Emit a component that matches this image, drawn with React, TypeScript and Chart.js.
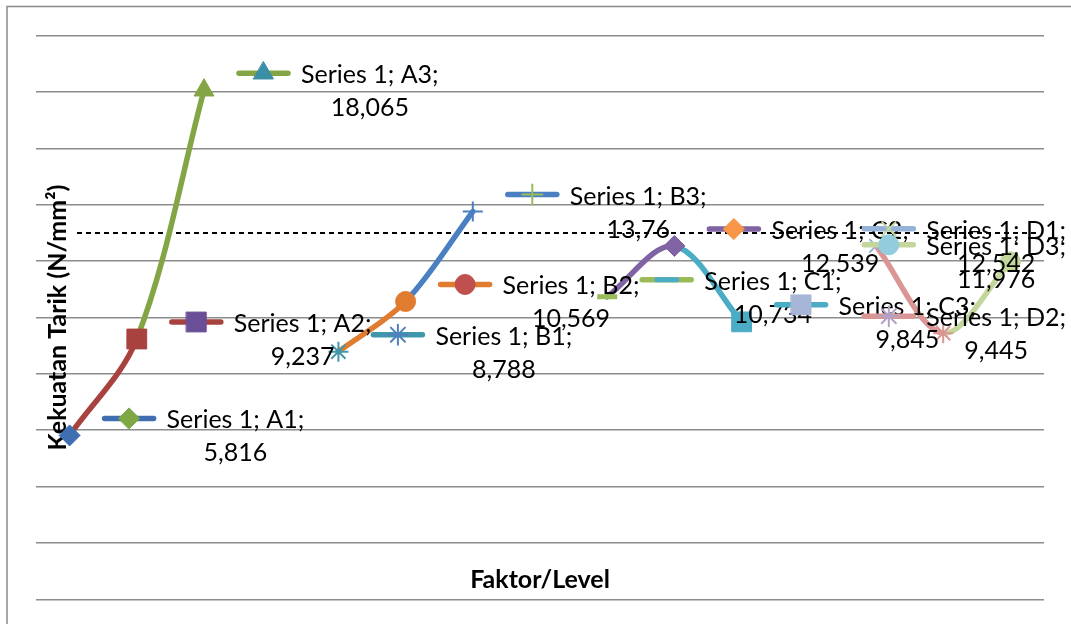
import React, { useEffect, useRef } from 'react';
import { Chart, registerables } from 'chart.js';
import { drawPoint } from 'chart.js/helpers';

Chart.register(...registerables);

// ---------- data ----------
const categories = ['A1', 'A2', 'A3', '', 'B1', 'B2', 'B3', '', 'C1', 'C2', 'C3', '', 'D1', 'D2', 'D3'];
const values: (number | null)[] = [5.816, 9.237, 18.065, null, 8.788, 10.569, 13.76, null, 10.734, 12.539, 9.845, null, 12.542, 9.445, 11.976];
const seriesName = 'Series 1';
const referenceValue = 13;
const yMin = 0;
const yMax = 20;
const yStep = 2;
const yTitle = 'Kekuatan Tarik (N/mm²)';
const xTitle = 'Faktor/Level';

// ---------- styles ----------
const pointColors = ['#3F6FB0', '#A8423F', '#84A546', '#000000', '#3F97AB', '#E07C30', '#4A7FC1', '#000000', '#9BBB59', '#7F63A2', '#4BACC6', '#000000', '#95B3D7', '#D99694', '#C3D69B'];
const keyMarkerColors = ['#7FA745', '#6B4E98', '#3A8EA5', '#000000', '#4F81BD', '#C0504D', '#9BBB59', '#000000', '#4BACC6', '#F79646', '#A5B6D6', '#000000', '#C3D69B', '#B3A2C7', '#93CDDD'];
const pointStyles = ['rectRot', 'rect', 'triangle', 'circle', 'star', 'circle', 'cross', 'circle', 'line', 'rectRot', 'rect', 'circle', 'crossRot', 'star', 'circle'];

const radiusFor = (s: string) =>
  ({ rectRot: 10.5, rect: 14, triangle: 11.5, star: 10, circle: 10, cross: 10, line: 10, crossRot: 9.5 } as any)[s] ?? 10;
const borderFor = (s: string) =>
  s === 'line' ? 5 : s === 'star' || s === 'cross' || s === 'crossRot' ? 2 : 1;

const FONT = 'Lato, "Open Sans", sans-serif';
const LABEL_RIGHT_LIMIT = 1066;

const framePlugin = {
  id: 'frame',
  beforeDraw(chart: any) {
    const ctx = chart.ctx;
    ctx.save();
    ctx.fillStyle = '#ffffff';
    ctx.fillRect(0, 0, chart.width, chart.height);
    ctx.strokeStyle = '#8a8a8a';
    ctx.lineWidth = 1.5;
    ctx.strokeRect(7, 6.5, chart.width + 20, chart.height + 20);
    ctx.restore();
  },
};

const refLinePlugin = {
  id: 'refLine',
  beforeDatasetsDraw(chart: any) {
    const ctx = chart.ctx;
    const y = chart.scales.y.getPixelForValue(referenceValue);
    ctx.save();
    ctx.strokeStyle = '#000000';
    ctx.lineWidth = 2;
    ctx.setLineDash([5, 4]);
    ctx.beginPath();
    ctx.moveTo(77, y);
    ctx.lineTo(chart.chartArea.right - 4, y);
    ctx.stroke();
    ctx.restore();

    // axis titles
    const area = chart.chartArea;
    ctx.save();
    ctx.fillStyle = '#000000';
    ctx.font = `bold 25px ${FONT}`;
    ctx.textAlign = 'center';
    ctx.textBaseline = 'alphabetic';
    ctx.fillText(xTitle, (area.left + area.right) / 2, 588);
    ctx.translate(66, (area.top + area.bottom) / 2);
    ctx.rotate(-Math.PI / 2);
    ctx.fillText(yTitle, 0, 0);
    ctx.restore();
  },
};

const labelPlugin = {
  id: 'pointLabels',
  afterDatasetsDraw(chart: any) {
    const ctx = chart.ctx;
    const meta = chart.getDatasetMeta(0);
    ctx.save();
    ctx.font = `25px ${FONT}`;
    values.forEach((v, i) => {
      if (v == null) return;
      const el = meta.data[i];
      const { x, y } = el.getProps(['x', 'y'], true);
      const line1 = `${seriesName}; ${categories[i]};`;
      const line2 = String(v).replace('.', ',');
      const w1 = ctx.measureText(line1).width;
      let keyX = x + 32;
      let textX = keyX + 65;
      const overflow = textX + w1 - LABEL_RIGHT_LIMIT;
      if (overflow > 0) {
        keyX -= overflow;
        textX -= overflow;
      }
      const keyY = y - 17;
      ctx.save();
      ctx.strokeStyle = pointColors[i];
      ctx.lineWidth = 5.5;
      ctx.lineCap = 'round';
      ctx.beginPath();
      ctx.moveTo(keyX + 3, keyY);
      ctx.lineTo(keyX + 52, keyY);
      ctx.stroke();
      const style = pointStyles[i];
      ctx.fillStyle = keyMarkerColors[i];
      ctx.strokeStyle = keyMarkerColors[i];
      ctx.lineWidth = borderFor(style);
      drawPoint(ctx, { pointStyle: style, rotation: 0, radius: radiusFor(style), borderWidth: borderFor(style) } as any, keyX + 27.5, keyY);
      ctx.restore();
      ctx.fillStyle = '#000000';
      ctx.textBaseline = 'alphabetic';
      ctx.textAlign = 'left';
      ctx.fillText(line1, textX, y - 7);
      ctx.textAlign = 'center';
      ctx.fillText(line2, textX + w1 / 2, y + 26);
    });
    ctx.restore();
  },
};

export default function App() {
  const canvasRef = useRef<HTMLCanvasElement | null>(null);

  useEffect(() => {
    document.body.style.margin = '0';
    const canvas = canvasRef.current;
    if (!canvas) return;
    const chart = new Chart(canvas, {
      type: 'line',
      data: {
        labels: categories,
        datasets: [
          {
            label: seriesName,
            data: values,
            borderWidth: 5.5,
            borderColor: pointColors[0],
            segment: {
              borderColor: (c: any) => pointColors[c.p1DataIndex],
            },
            tension: 0.33,
            spanGaps: false,
            fill: false,
            borderCapStyle: 'round',
            borderJoinStyle: 'round',
            pointStyle: pointStyles as any,
            pointRadius: pointStyles.map(radiusFor),
            pointHoverRadius: pointStyles.map(radiusFor),
            pointBackgroundColor: pointColors,
            pointBorderColor: pointColors,
            pointBorderWidth: pointStyles.map(borderFor),
          } as any,
        ],
      },
      options: {
        animation: false,
        responsive: false,
        devicePixelRatio: 1,
        layout: { padding: { left: 36, right: 27, top: 35.7, bottom: 24.7 } },
        plugins: {
          legend: { display: false },
          tooltip: { enabled: false },
          title: { display: false },
        },
        scales: {
          x: {
            type: 'category',
            offset: true,
            grid: { display: false, drawTicks: false },
            border: { display: false },
            ticks: { display: false },
          },
          y: {
            type: 'linear',
            min: yMin,
            max: yMax,
            ticks: { display: false, stepSize: yStep },
            grid: { color: '#8c8c8c', lineWidth: 1.5, drawTicks: false },
            border: { display: false },
          },
        },
      },
      plugins: [framePlugin, refLinePlugin, labelPlugin],
    });
    return () => chart.destroy();
  }, []);

  return (
    <div style={{ position: 'absolute', left: 0, top: 0, width: 1071, height: 624 }}>
      <canvas ref={canvasRef} width={1071} height={624} style={{ width: 1071, height: 624 }} />
    </div>
  );
}
